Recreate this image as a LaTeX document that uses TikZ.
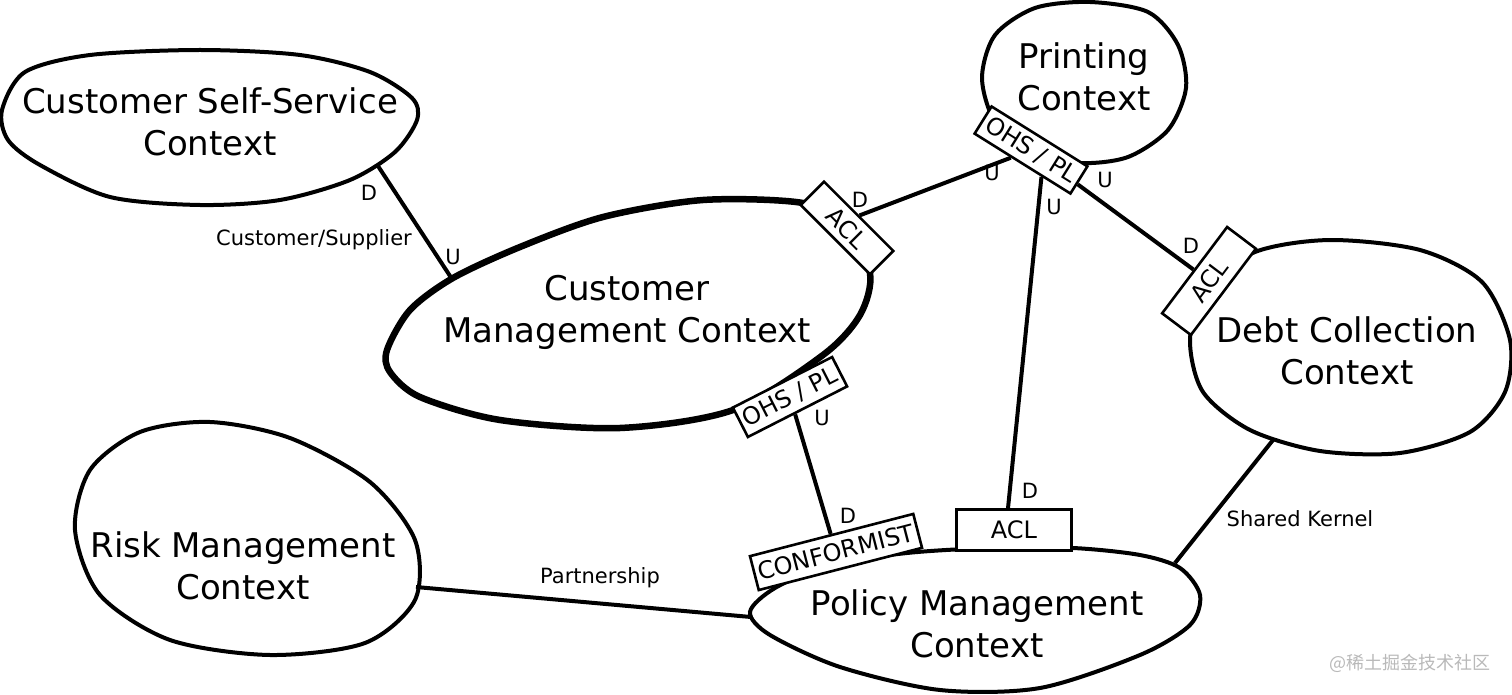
\documentclass[tikz,border=0pt]{standalone}
\usepackage{fontspec}
\setmainfont{DejaVu Sans}
\newfontfamily\cjkfont{Noto Sans CJK SC}
\usetikzlibrary{calc}

\tikzset{
  blob/.style={draw, line width=4pt, fill=white},
  ctxtext/.style={align=center, font=\fontsize{34}{42}\selectfont},
  tag/.style={draw, fill=white, line width=2.6pt, inner xsep=4pt, inner ysep=0pt, minimum height=33pt, font=\fontsize{24}{28}\selectfont},
  lbl/.style={inner sep=0pt, font=\fontsize{21}{25}\selectfont},
  link/.style={line width=4pt},
}

\begin{document}
\begin{tikzpicture}[x=1pt, y=-1pt]
\useasboundingbox (0,0) rectangle (1512,695);

% the contexts
\draw[blob] plot[smooth cycle] coordinates {(2,110) (25,72) (90,55) (200,50) (300,55) (370,72) (412,98) (417,120) (395,152) (350,180) (280,200) (200,205) (110,197) (40,165) (8,140)};
\draw[blob] plot[smooth cycle] coordinates {(982,78) (995,35) (1035,8) (1090,2) (1148,12) (1178,45) (1186,88) (1168,130) (1128,157) (1080,163) (1030,152) (995,122)};
\draw[blob, line width=6.5pt] plot[smooth cycle] coordinates {(387,350) (410,310) (453,278) (520,247) (603,217) (703,200) (803,203) (845,225) (870,273) (860,315) (823,355) (733,410) (620,428) (500,420) (420,397) (390,372)};
\draw[blob] plot[smooth cycle] coordinates {(1190,340) (1205,290) (1255,252) (1330,240) (1420,250) (1482,282) (1510,340) (1505,392) (1470,432) (1400,453) (1320,451) (1250,430) (1203,392)};
\draw[blob] plot[smooth cycle] coordinates {(75,530) (90,470) (140,432) (210,422) (290,438) (370,482) (415,540) (415,600) (365,643) (270,655) (170,640) (100,595)};
\draw[blob] plot[smooth cycle] coordinates {(750,612) (775,588) (830,565) (907,553) (990,548) (1073,548) (1140,555) (1180,568) (1200,595) (1190,625) (1140,655) (1040,688) (940,690) (840,667) (770,635)};

\node at (210,122) [ctxtext] (selfsvc) {Customer Self-Service\\Context};
\node at (1084,77) [ctxtext] (printing) {Printing\\Context};
\node at (627,312) [ctxtext] (custmgmt) {Customer\\Management Context};
\node at (1347,351) [ctxtext] (debt) {Debt Collection\\Context};
\node at (243,566) [ctxtext] (risk) {Risk Management\\Context};
\node at (977,624) [ctxtext] (policy) {Policy Management\\Context};

% free ends on the context borders
\coordinate (selfsvcD) at (378,166);
\coordinate (custmgmtU) at (452,279);
\coordinate (riskP) at (416,587);
\coordinate (policyP) at (751,617);
\coordinate (debtS) at (1273,440);
\coordinate (policyS) at (1175,563);

% the tags
\node at (847,228) [tag, rotate=-45, minimum width=98pt] (aclcm) {ACL};
\node at (1031,150) [tag, rotate=-32, minimum width=113pt, minimum height=32pt] (ohsprint) {OHS / PL};
\node at (1209,281) [tag, rotate=53, minimum width=108pt, minimum height=36pt] (acldebt) {ACL};
\node at (790,397) [tag, rotate=27, minimum width=109pt] (ohscm) {OHS / PL};
\node at (836,552) [tag, rotate=14.5, minimum width=168pt, minimum height=35pt] (conf) {CONFORMIST};
\node at (1014,530) [tag, minimum width=115pt, minimum height=41pt] (aclpol) {ACL};

% relations
\draw[link] (selfsvcD) -- (custmgmtU);
\draw[link] (aclcm.north) -- (ohsprint);
\draw[link] (ohsprint) -- (acldebt);
\draw[link] ($(ohsprint.south)!0.4!(ohsprint.south east)$) -- ($(aclpol.north)+(-6,0)$);
\draw[link] (ohscm) -- (conf);
\draw[link] (riskP) -- (policyP);
\draw[link] (debtS) -- (policyS);

\node at (369,193) [lbl] (d1) {D};
\node at (453,257) [lbl] (u1) {U};
\node at (314,240) [lbl] (cs) {Customer/Supplier};
\node at (860,200) [lbl] (d2) {D};
\node at (992,173) [lbl] (u2) {U};
\node at (1105,180) [lbl] (u3) {U};
\node at (1191,246) [lbl] (d3) {D};
\node at (1054,207) [lbl] (u4) {U};
\node at (1030,491) [lbl] (d4) {D};
\node at (822,418) [lbl] (u5) {U};
\node at (848,516) [lbl] (d5) {D};
\node at (600,578) [lbl] (pship) {Partnership};
\node at (1300,519) [lbl] (kernel) {Shared Kernel};

\node at (1410,663) [text=gray!55, font=\cjkfont\fontsize{18}{20}\selectfont] (mark) {@稀土掘金技术社区};

\end{tikzpicture}
\end{document}
